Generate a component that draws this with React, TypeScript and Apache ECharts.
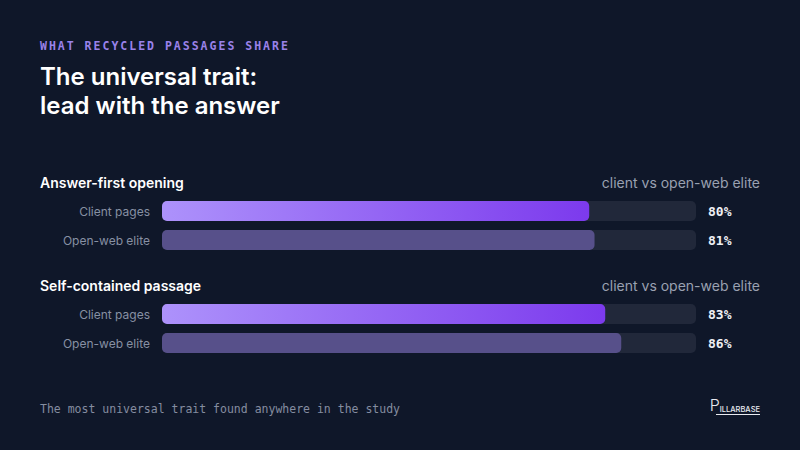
import React, { useEffect, useRef } from "react";
import * as echarts from "echarts";

const kicker = "WHAT RECYCLED PASSAGES SHARE";
const titleLines = ["The universal trait:", "lead with the answer"];
const groups = ["Answer-first opening", "Self-contained passage"];
const groupNote = "client vs open-web elite";
const rowLabels = ["Client pages", "Open-web elite"];
const clientValues = [80, 83];
const eliteValues = [81, 86];
const footer = "The most universal trait found anywhere in the study";
const brandHead = "P";
const brandTail = "ILLARBASE";

const BG = "#0f1729";
const SANS = "Inter, 'Noto Sans', sans-serif";
const MONO = "'DejaVu Sans Mono', 'Liberation Mono', monospace";

export default function App() {
  const ref = useRef<HTMLDivElement>(null);
  useEffect(() => {
    if (!ref.current) return;
    const el = ref.current;
    const chart = echarts.init(el, null, { renderer: "svg" });
    const gridTops = [196.5, 299.5];
    const groupTitleY = [182, 285];
    const grids = gridTops.map((t) => ({ left: 162, right: 104, top: t, height: 58 }));
    const xAxes = grids.map((_, i) => ({
      type: "value",
      gridIndex: i,
      min: 0,
      max: 100,
      show: false,
    }));
    const yAxes: any[] = [];
    const series: any[] = [];
    groups.forEach((_, i) => {
      const vals = [clientValues[i], eliteValues[i]];
      yAxes.push({
        type: "category",
        gridIndex: i,
        inverse: true,
        data: rowLabels,
        position: "left",
        axisLine: { show: false },
        axisTick: { show: false },
        axisLabel: { color: "#8790a3", fontFamily: SANS, fontSize: 12, margin: 12 },
      });
      yAxes.push({
        type: "category",
        gridIndex: i,
        inverse: true,
        data: vals.map((v) => v + "%"),
        position: "right",
        axisLine: { show: false },
        axisTick: { show: false },
        axisLabel: {
          color: "#eef0f5",
          fontFamily: MONO,
          fontSize: 13,
          fontWeight: "bold",
          margin: 12,
          align: "left",
        },
      });
      series.push({
        type: "bar",
        xAxisIndex: i,
        yAxisIndex: i * 2,
        barWidth: 20,
        showBackground: true,
        backgroundStyle: { color: "#21283a", borderRadius: 5 },
        data: [
          {
            value: vals[0],
            itemStyle: {
              borderRadius: 5,
              color: new echarts.graphic.LinearGradient(0, 0, 1, 0, [
                { offset: 0, color: "#ad92fb" },
                { offset: 1, color: "#7c3aed" },
              ]),
            },
          },
          { value: vals[1], itemStyle: { borderRadius: 5, color: "#57508a" } },
        ],
      });
    });

    const graphics: any[] = [
      {
        type: "text",
        style: {
          text: kicker,
          x: 40,
          y: 46,
          fill: "#9a82ea",
          font: `600 11.5px ${MONO}`,
          verticalAlign: "middle",
        },
      },
      ...titleLines.map((t, i) => ({
        type: "text",
        style: {
          text: t,
          x: 40,
          y: 76.5 + i * 29,
          fill: "#ffffff",
          font: `600 24px ${SANS}`,
          verticalAlign: "middle",
        },
      })),
      ...groups.flatMap((g, i) => [
        {
          type: "text",
          style: {
            text: g,
            x: 40,
            y: groupTitleY[i],
            fill: "#ffffff",
            font: `600 14px ${SANS}`,
            verticalAlign: "middle",
          },
        },
        {
          type: "text",
          style: {
            text: groupNote,
            x: 760,
            y: groupTitleY[i],
            fill: "#9aa1b1",
            font: `400 14px ${SANS}`,
            align: "right",
            verticalAlign: "middle",
          },
        },
      ]),
      {
        type: "text",
        style: {
          text: footer,
          x: 40,
          y: 409,
          fill: "#858da0",
          font: `400 11.5px ${MONO}`,
          verticalAlign: "middle",
        },
      },
      {
        type: "text",
        style: {
          text: `{p|${brandHead}}{r|${brandTail}}`,
          x: 760,
          y: 413,
          align: "right",
          verticalAlign: "bottom",
          rich: {
            p: { fill: "#e8eaf0", fontFamily: SANS, fontSize: 16, fontWeight: 300, verticalAlign: "bottom", lineHeight: 16 },
            r: { fill: "#e8eaf0", fontFamily: SANS, fontSize: 7.5, fontWeight: 500, verticalAlign: "bottom", lineHeight: 10 },
          },
        },
      },
      {
        type: "line",
        shape: { x1: 716, y1: 414.5, x2: 760, y2: 414.5 },
        style: { stroke: "#e8eaf0", lineWidth: 1 },
      },
    ];

    chart.setOption({
      animation: false,
      backgroundColor: BG,
      grid: grids,
      xAxis: xAxes,
      yAxis: yAxes,
      series,
      graphic: graphics,
    });

    const spaceKicker = () => {
      el.querySelectorAll("text").forEach((t) => {
        if (t.textContent === kicker) {
          t.setAttribute("letter-spacing", "2px");
        }
      });
    };
    spaceKicker();
    chart.on("finished", spaceKicker);
    return () => chart.dispose();
  }, []);
  return (
    <div
      ref={ref}
      style={{ width: 800, height: 450, position: "fixed", left: 0, top: 0 }}
    />
  );
}
